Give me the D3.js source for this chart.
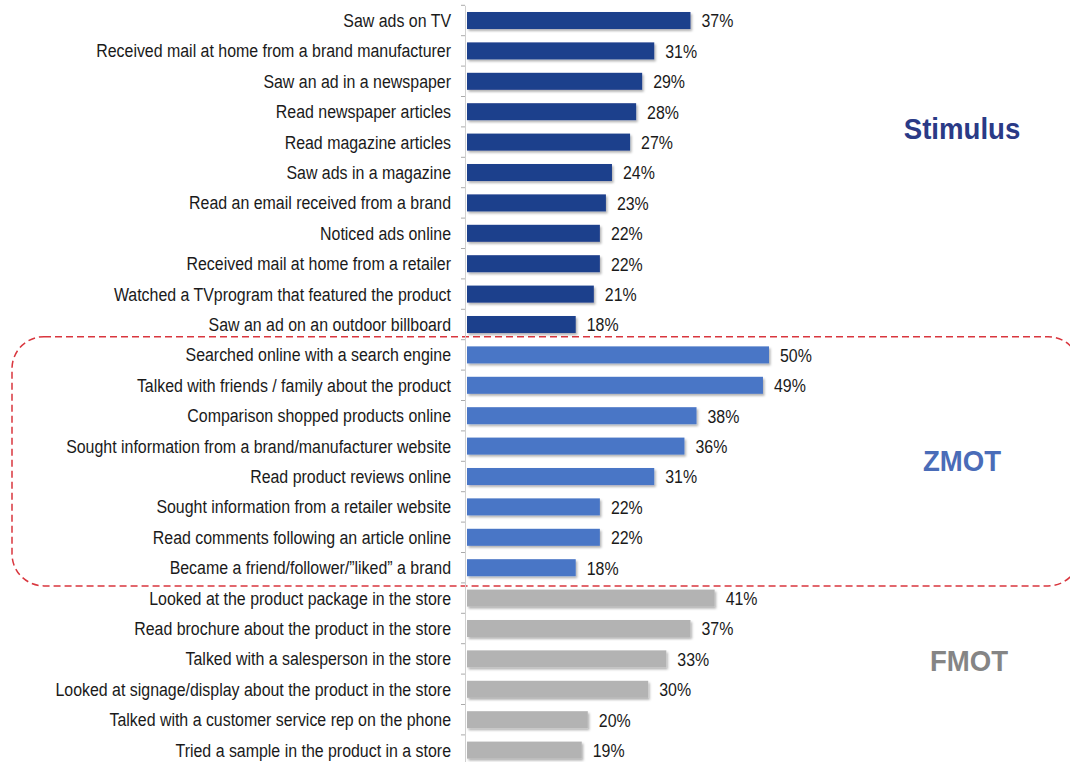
<!DOCTYPE html>
<html><head><meta charset="utf-8">
<script src="https://cdn.jsdelivr.net/npm/d3@7"></script>
<style>
body{margin:0;background:#fff;}
svg{display:block;}
</style></head>
<body>
<svg id="chart" width="1070" height="762"></svg>
<script>
const stimulusLabels = ["Saw ads on TV","Received mail at home from a brand manufacturer","Saw an ad in a newspaper","Read newspaper articles","Read magazine articles","Saw ads in a magazine","Read an email received from a brand","Noticed ads online","Received mail at home from a retailer","Watched a TVprogram that featured the product","Saw an ad on an outdoor billboard"];
const stimulusValues = [37,31,29,28,27,24,23,22,22,21,18];
const zmotLabels = ["Searched online with a search engine","Talked with friends / family about the product","Comparison shopped products online","Sought information from a brand/manufacturer website","Read product reviews online","Sought information from a retailer website","Read comments following an article online","Became a friend/follower/\u201dliked\u201d a brand"];
const zmotValues = [50,49,38,36,31,22,22,18];
const fmotLabels = ["Looked at the product package in the store","Read brochure about the product in the store","Talked with a salesperson in the store","Looked at signage/display about the product in the store","Talked with a customer service rep on the phone","Tried a sample in the product in a store"];
const fmotValues = [41,37,33,30,20,19];
const groupNames = ["Stimulus","ZMOT","FMOT"];
const groupColors = ["#1f3f8c","#4a76c6","#b3b3b3"];
const groupTextColors = ["#2a3a86","#4a6cb8","#858585"];

const rows = [];
[[stimulusLabels,stimulusValues],[zmotLabels,zmotValues],[fmotLabels,fmotValues]].forEach(([ls,vs],g)=>{
  ls.forEach((l,i)=>rows.push({label:l,value:vs[i],group:g,key:g+"-"+i}));
});

const svg = d3.select("#chart");
const x0 = 467;
const x = d3.scaleLinear().domain([0,50]).range([x0, x0+302]);
const y = d3.scaleBand().domain(rows.map(d=>d.key)).range([5.3, 765.3]).paddingInner(0.44).paddingOuter(0.22);

const font = "'Liberation Sans Narrow','Arial Narrow','Liberation Sans',Arial,sans-serif";
const fs = 18;
// measure to fit condensed look
const tmp = svg.append("text").attr("font-family",font).attr("font-size",fs).text(stimulusLabels[1]);
const k = Math.min(1, 355 / tmp.node().getComputedTextLength());
tmp.remove();

const defs = svg.append("defs");
const f = defs.append("filter").attr("id","sh").attr("x","-5%").attr("y","-30%").attr("width","110%").attr("height","180%");
f.append("feDropShadow").attr("dx",1.5).attr("dy",2).attr("stdDeviation",1.2).attr("flood-color","#000").attr("flood-opacity",0.3);

// dashed box around ZMOT
const zRows = rows.filter(d=>d.group===1);
const zTop = y(zRows[0].key) - y.step()*y.paddingInner()/2 - 3;
const zBot = y(zRows[zRows.length-1].key) + y.bandwidth() + y.step()*y.paddingInner()/2 + 3;
svg.append("rect").attr("x",12).attr("y",zTop).attr("width",1070-12+10).attr("height",zBot-zTop)
  .attr("rx",32).attr("ry",32).attr("fill","none").attr("stroke","#d9363e").attr("stroke-width",1.5).attr("stroke-dasharray","7,4");

// axis
const yAxis = d3.axisLeft(y).tickSize(0).tickFormat("");
const ag = svg.append("g").attr("transform",`translate(${x0-2},0)`).call(yAxis);
ag.select(".domain").attr("stroke","#d0d0d0").attr("stroke-width",1);
const bounds = rows.map(d=>y(d.key)-y.step()*y.paddingInner()/2);
ag.selectAll("line.bt").data(bounds).enter().append("line").attr("class","bt")
  .attr("x1",-4).attr("x2",0).attr("y1",d=>d).attr("y2",d=>d).attr("stroke","#aaa");

// bars
svg.append("g").selectAll("rect").data(rows).enter().append("rect")
  .attr("x",x(0)).attr("y",d=>y(d.key)).attr("width",d=>x(d.value)-x(0)).attr("height",y.bandwidth())
  .attr("fill",d=>groupColors[d.group]).attr("filter","url(#sh)");

// category labels
svg.append("g").selectAll("text").data(rows).enter().append("text")
  .attr("transform",d=>`translate(451,${y(d.key)+y.bandwidth()/2}) scale(${k},1)`).attr("dy","0.36em")
  .attr("text-anchor","end").attr("font-family",font).attr("font-size",fs).attr("fill","#1a1a1a")
  .text(d=>d.label);
// value labels
svg.append("g").selectAll("text").data(rows).enter().append("text")
  .attr("transform",d=>`translate(${x(d.value)+11},${y(d.key)+y.bandwidth()/2}) scale(${k},1)`).attr("dy","0.38em")
  .attr("font-family",font).attr("font-size",fs).attr("fill","#1a1a1a")
  .text(d=>d.value+"%");

// group labels
const gpos = [[962,128],[962,460],[969,660]];
groupNames.forEach((n,i)=>{
  svg.append("text").attr("transform",`translate(${gpos[i][0]},${gpos[i][1]}) scale(0.92,1)`).attr("dy","0.35em").attr("text-anchor","middle")
    .attr("font-family",font).attr("font-weight","bold").attr("font-size",30)
    .attr("fill",groupTextColors[i]).text(n);
});
</script>
</body></html>
